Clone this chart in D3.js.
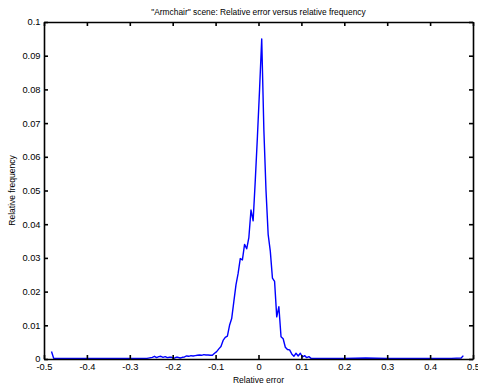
<!DOCTYPE html>
<html>
<head>
<meta charset="utf-8">
<script src="https://cdn.jsdelivr.net/npm/d3@7"></script>
<style>
  body { margin: 0; background: #fff; }
  svg text { font-family: Arial, 'Liberation Sans', sans-serif; fill: #000; }
</style>
</head>
<body>
<div id="chart"></div>
<script>
// values (bin centre, relative frequency)
const relativeError = [
  -0.4825, -0.4775, -0.45, -0.4, -0.35, -0.3, -0.26,
  -0.2475, -0.2425, -0.2375, -0.2325, -0.2275, -0.2225, -0.2175, -0.2125,
  -0.2075, -0.2025, -0.1975, -0.1925, -0.1875, -0.1825, -0.1775, -0.1725,
  -0.1675, -0.1625, -0.1575, -0.1525, -0.1475, -0.1425, -0.1375, -0.1325,
  -0.1275, -0.1225, -0.1175, -0.1125, -0.1075, -0.1025, -0.0975, -0.0925,
  -0.0875, -0.0825, -0.0775, -0.0725, -0.0675, -0.0625, -0.0575, -0.0525,
  -0.0475, -0.0425, -0.0375, -0.0325, -0.0275, -0.0225, -0.0175, -0.0125,
  -0.0075, -0.0025, 0.0025, 0.0075, 0.0125, 0.0175, 0.0225, 0.0275,
  0.0325, 0.0375, 0.0425, 0.0475, 0.0525, 0.0575, 0.0625, 0.0675,
  0.0725, 0.0775, 0.0825, 0.0875, 0.0925, 0.0975, 0.1025, 0.1075,
  0.1125, 0.1175, 0.1225, 0.15, 0.2, 0.25, 0.3, 0.35, 0.4, 0.45,
  0.4725, 0.4775,
]
const relativeFrequency = [
  0.0022, 0.0002, 0.0002, 0.0002, 0.0002, 0.0002, 0.0002,
  0.0005, 0.0008, 0.0004, 0.0007, 0.0008, 0.0005, 0.0007, 0.0004,
  0.0005, 0.0005, 0.0002, 0.0005, 0.0005, 0.0003, 0.0005, 0.0006,
  0.0009, 0.0008, 0.001, 0.0009, 0.001, 0.0011, 0.0012, 0.0011,
  0.0013, 0.0012, 0.0012, 0.0011, 0.0011, 0.0017, 0.0022, 0.003,
  0.0037, 0.0055, 0.0064, 0.0068, 0.01, 0.012, 0.017, 0.022,
  0.0254, 0.0298, 0.0294, 0.034, 0.0327, 0.036, 0.0442, 0.041,
  0.053, 0.066, 0.08, 0.095, 0.068, 0.05, 0.037, 0.032,
  0.024, 0.023, 0.0125, 0.0155, 0.0066, 0.006, 0.0035, 0.0028,
  0.0027, 0.0015, 0.0008, 0.0017, 0.0009, 0.0017, 0.0006, 0.001,
  0.0004, 0.0007, 0.0002, 0.0002, 0.0002, 0.0003, 0.0002, 0.0002, 0.0002, 0.0002,
  0.0003, 0.001,
]
const xTicks = [-0.5, -0.4, -0.3, -0.2, -0.1, 0, 0.1, 0.2, 0.3, 0.4, 0.5]
const yTicks = [0, 0.01, 0.02, 0.03, 0.04, 0.05, 0.06, 0.07, 0.08, 0.09, 0.1]
const titleText = '"Armchair" scene: Relative error versus relative frequency'
const xLabelText = 'Relative error'
const yLabelText = 'Relative frequency'

renderChart({
  chartContainerSelector: '#chart',
  width: 478,
  height: 387,
  marginTop: 22,
  marginRight: 5,
  marginBottom: 28,
  marginLeft: 44,
})

function renderChart({
  chartContainerSelector,
  width,
  height,
  marginTop,
  marginRight,
  marginBottom,
  marginLeft,
}) {
  const coreWidth = width - marginLeft - marginRight
  const coreHeight = height - marginTop - marginBottom

  const svg = d3
    .select(chartContainerSelector)
    .append('svg')
    .attr('width', width)
    .attr('height', height)
    .style('display', 'block')
    .style('background', '#fff')

  const chartCore = svg
    .append('g')
    .attr('transform', `translate(${marginLeft}, ${marginTop})`)

  const xScale = d3.scaleLinear().domain([-0.5, 0.5]).range([0, coreWidth])
  const yScale = d3.scaleLinear().domain([0, 0.1]).range([coreHeight, 0])

  const tickFormat = d => String(+d.toFixed(2))
  const tickLen = 4

  const styleAxis = g => {
    g.select('.domain').attr('stroke', '#000').attr('stroke-width', 1.6)
    g.selectAll('.tick line').attr('stroke', '#000').attr('stroke-width', 1.6)
    g.selectAll('.tick text')
      .attr('font-size', '9.3px')
      .attr('font-family', 'Arial, "Liberation Sans", sans-serif')
  }

  // data line first so the box sits on top
  const points = relativeError.map((x, i) => [x, relativeFrequency[i]])
  chartCore
    .append('path')
    .datum(points)
    .attr('fill', 'none')
    .attr('stroke', '#0000ff')
    .attr('stroke-width', 1.4)
    .attr('stroke-linejoin', 'round')
    .attr(
      'd',
      d3
        .line()
        .x(d => xScale(d[0]))
        .y(d => yScale(d[1])),
    )

  chartCore
    .append('g')
    .attr('transform', `translate(0, ${coreHeight})`)
    .call(
      d3.axisBottom(xScale)
        .tickValues(xTicks)
        .tickFormat(tickFormat)
        .tickSizeInner(-tickLen)
        .tickSizeOuter(0)
        .tickPadding(4),
    )
    .call(styleAxis)

  chartCore
    .append('g')
    .call(
      d3.axisTop(xScale)
        .tickValues(xTicks)
        .tickFormat('')
        .tickSizeInner(-tickLen)
        .tickSizeOuter(0),
    )
    .call(styleAxis)

  chartCore
    .append('g')
    .call(
      d3.axisLeft(yScale)
        .tickValues(yTicks)
        .tickFormat(tickFormat)
        .tickSizeInner(-tickLen)
        .tickSizeOuter(0)
        .tickPadding(3.5),
    )
    .call(styleAxis)

  chartCore
    .append('g')
    .attr('transform', `translate(${coreWidth}, 0)`)
    .call(
      d3.axisRight(yScale)
        .tickValues(yTicks)
        .tickFormat('')
        .tickSizeInner(-tickLen)
        .tickSizeOuter(0),
    )
    .call(styleAxis)

  svg
    .append('text')
    .attr('x', marginLeft + coreWidth / 2)
    .attr('y', 15)
    .attr('text-anchor', 'middle')
    .attr('font-size', '8.4px')
    .text(titleText)

  svg
    .append('text')
    .attr('x', marginLeft + coreWidth / 2)
    .attr('y', 383)
    .attr('text-anchor', 'middle')
    .attr('font-size', '8.5px')
    .text(xLabelText)

  svg
    .append('text')
    .attr('transform', `translate(15, ${marginTop + coreHeight / 2}) rotate(-90)`)
    .attr('text-anchor', 'middle')
    .attr('font-size', '8.5px')
    .text(yLabelText)
}
</script>
</body>
</html>
